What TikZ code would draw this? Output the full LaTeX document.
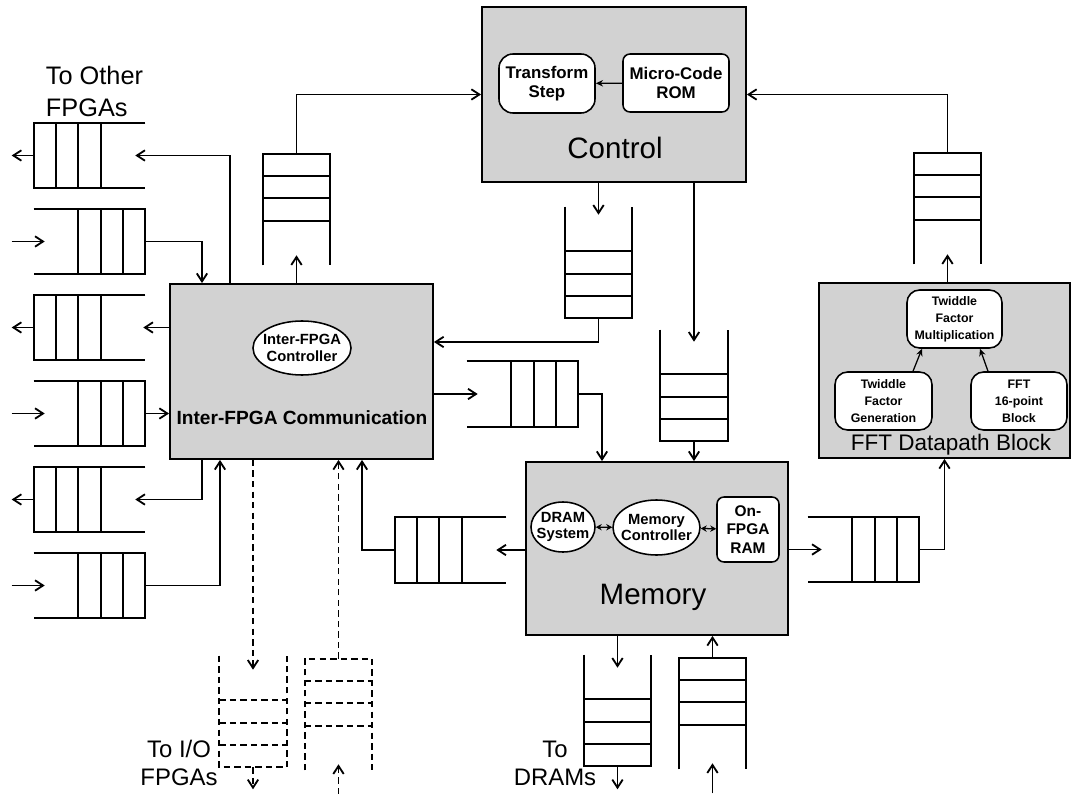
\documentclass[tikz,border=0pt]{standalone}
\usepackage{fontspec}
\setmainfont{Liberation Sans}
\usepackage{tikz}
\usetikzlibrary{shapes.geometric, arrows.meta, positioning, calc}
\definecolor{griBloc}{RGB}{210, 210, 210}

% fifos: closed end = exit side
\newcommand{\fifoL}[2][]{%
  \draw[ln,#1] (#2.north east) -- (#2.north west) -- (#2.south west) -- (#2.south east);
  \foreach \f in {0.2,0.4,0.6}
    \draw[ln,#1] ($(#2.north west)!\f!(#2.north east)$) -- ($(#2.south west)!\f!(#2.south east)$);}
\newcommand{\fifoR}[2][]{%
  \draw[ln,#1] (#2.north west) -- (#2.north east) -- (#2.south east) -- (#2.south west);
  \foreach \f in {0.4,0.6,0.8}
    \draw[ln,#1] ($(#2.north west)!\f!(#2.north east)$) -- ($(#2.south west)!\f!(#2.south east)$);}
\newcommand{\fifoU}[2][]{%
  \draw[ln,#1] (#2.south west) -- (#2.north west) -- (#2.north east) -- (#2.south east);
  \foreach \f in {0.2,0.4,0.6}
    \draw[ln,#1] ($(#2.north west)!\f!(#2.south west)$) -- ($(#2.north east)!\f!(#2.south east)$);}
\newcommand{\fifoD}[2][]{%
  \draw[ln,#1] (#2.north west) -- (#2.south west) -- (#2.south east) -- (#2.north east);
  \foreach \f in {0.4,0.6,0.8}
    \draw[ln,#1] ($(#2.north west)!\f!(#2.south west)$) -- ($(#2.north east)!\f!(#2.south east)$);}

\begin{document}
\begin{tikzpicture}[x=0.025cm, y=-0.025cm,
  blk/.style={rectangle, draw, line width=1.3pt, fill=griBloc,
    minimum width=6.6cm, minimum height=4.375cm},
  inb/.style={rectangle, draw, fill=white, line width=1.1pt, align=center,
    inner sep=1pt, font=\bfseries\fontsize{12}{14}\selectfont},
  ell/.style={ellipse, draw, fill=white, line width=1.1pt, align=center,
    inner sep=0pt, font=\bfseries\fontsize{10.5}{11.5}\selectfont},
  qh/.style={rectangle, inner sep=0pt, minimum width=2.775cm, minimum height=1.625cm},
  qv/.style={rectangle, inner sep=0pt, minimum width=1.675cm, minimum height=2.775cm},
  ln/.style={line width=1.3pt},
  arr/.style={-{Straight Barb[length=2mm, width=2.6mm]}, line width=1.3pt},
  pet/.style={-{Stealth[length=1.8mm, width=1.6mm]}, line width=0.9pt},
  dbl/.style={{Stealth[length=1.5mm, width=1.6mm]}-{Stealth[length=1.5mm, width=1.6mm]},
    line width=0.9pt},
  dsh/.style={dash pattern=on 4.5pt off 3pt},
  ttl/.style={font=\fontsize{21}{24}\selectfont},
  lbl/.style={font=\fontsize{17}{20}\selectfont, align=center},
]
\useasboundingbox (0,0) rectangle (1073,794);

% blocks
\node[blk] (ctl) at (614, 94.5) {};
\node[blk, minimum width=6.575cm] (ifc) at (301.5, 371.5) {};
\node[blk, minimum width=6.55cm, minimum height=4.325cm] (mem) at (657, 548.5) {};
\node[blk, minimum width=6.275cm] (fft) at (944.5, 370.5) {};

\node[ttl] (ctlt) at (615, 148) {Control};
\node[ttl] (memt) at (653, 597) {Memory};
\node[font=\bfseries\fontsize{13.6}{16}\selectfont] (ifct) at (302, 418)
  {Inter-FPGA Communication};
\node[font=\fontsize{16}{18}\selectfont] (fftt) at (951, 445) {FFT Datapath Block};

\node[inb, rounded corners=10pt, minimum width=2.4cm, minimum height=1.475cm]
  (ts) at (547, 83.5) {Transform\\Step};
\node[inb, rounded corners=5pt, minimum width=2.65cm, minimum height=1.45cm]
  (rom) at (676, 83) {Micro-Code\\ROM};
\node[ell, minimum width=2.45cm, minimum height=1.35cm] (ifcc) at (302, 348)
  {\makebox[0pt]{Inter-FPGA}\\\makebox[0pt]{Controller}};
\node[ell, minimum width=1.6cm, minimum height=1.25cm] (dram) at (563, 527)
  {\makebox[0pt]{DRAM}\\\makebox[0pt]{System}};
\node[ell, minimum width=2.175cm, minimum height=1.375cm] (mctl) at (656.5, 527.5)
  {\makebox[0pt]{Memory}\\\makebox[0pt]{Controller}};
\node[inb, rounded corners=5pt, minimum width=1.55cm, minimum height=1.625cm,
  font=\bfseries\fontsize{11}{13}\selectfont] (ram) at (748, 529.5) {On-\\FPGA\\RAM};
\node[inb, rounded corners=9pt, minimum width=2.375cm, minimum height=1.45cm,
  font=\bfseries\fontsize{8.8}{12}\selectfont] (mul) at (954.5, 319)
  {Twiddle\\Factor\\Multiplication};
\node[inb, rounded corners=9pt, minimum width=2.425cm, minimum height=1.45cm,
  font=\bfseries\fontsize{8.8}{12}\selectfont] (gen) at (883.5, 401)
  {Twiddle\\Factor\\Generation};
\node[inb, rounded corners=9pt, minimum width=2.4cm, minimum height=1.45cm,
  font=\bfseries\fontsize{8.8}{12}\selectfont] (fpb) at (1019, 401)
  {FFT\\16-point\\Block};

% fifos
\node[qh] (q1) at (89.5, 155.5) {};
\node[qh] (q2) at (89.5, 241.5) {};
\node[qh] (q3) at (89.5, 327.5) {};
\node[qh] (q4) at (89.5, 413.5) {};
\node[qh] (q5) at (89.5, 499.5) {};
\node[qh] (q6) at (89.5, 585.5) {};
\node[qh] (qim) at (522.5, 394) {};
\node[qh] (qmi) at (450.5, 550) {};
\node[qh] (qmf) at (863.5, 549.5) {};
\node[qv] (qctl) at (296.5, 209.5) {};
\node[qv] (qfft) at (947.5, 208.5) {};
\node[qv] (qcmd) at (598.5, 262.5) {};
\node[qv] (qmem) at (694, 385.5) {};
\node[qv] (qdo) at (617.5, 710.5) {};
\node[qv] (qdi) at (712.5, 713.5) {};
\node[qv] (qio) at (253, 711.5) {};
\node[qv] (qii) at (338.5, 714.5) {};
\fifoL{q1} \fifoR{q2} \fifoL{q3} \fifoR{q4} \fifoL{q5} \fifoR{q6}
\fifoR{qim} \fifoL{qmi} \fifoR{qmf}
\fifoU{qctl} \fifoU{qfft} \fifoD{qcmd} \fifoD{qmem} \fifoD{qdo} \fifoU{qdi}
\fifoD[dsh]{qio} \fifoU[dsh]{qii}

\node[font=\fontsize{18}{22.5}\selectfont, align=left, anchor=west] (oth) at (41, 91.5)
  {To Other\\FPGAs};
\node[lbl] (iot) at (179, 763) {To I/O\\FPGAs};
\node[lbl] (drt) at (555, 763) {To\\DRAMs};

% control
\draw[arr] (qctl.north) |- (ctl.west);
\draw[arr] (qfft.north) |- (ctl.east);
\draw[pet] (rom) -- (ts);
\draw[arr] (ctl.south -| qcmd.north) -- ($(qcmd.north)+(0,8)$);
\draw[arr] (ctl.south -| qmem.north) -- ($(qmem.north)+(0,12)$);
\draw[arr] (qcmd.south) |- ($(ifc.east)+(0,-29.5)$);
\draw[arr] (qmem.south) -- (mem.north -| qmem.south);

% inter-fpga
\draw[arr] (ifc.north -| qctl.south) -- ($(qctl.south)+(0,-10)$);
\draw[arr] ($(ifc.north)+(-71.5,0)$) |- ($(q1.east)+(-10,0)$);
\draw[arr] (q2.east) -| ($(ifc.north)+(-99.5,0)$);
\draw[arr] (ifc.west |- q3.east) -- ($(q3.east)+(-2,0)$);
\draw[arr] (q4.east) -- (q4.east -| ifc.west);
\draw[arr] ($(ifc.south)+(-99.5,0)$) |- ($(q5.east)+(-10,0)$);
\draw[arr] (q6.east) -| ($(ifc.south)+(-81.5,0)$);
\draw[arr] (q1.west) -- ++(-22,0);
\draw[arr] (q3.west) -- ++(-22,0);
\draw[arr] (q5.west) -- ++(-22,0);
\draw[arr] ($(q2.west)+(-22,0)$) -- ($(q2.west)+(11,0)$);
\draw[arr] ($(q4.west)+(-22,0)$) -- ($(q4.west)+(11,0)$);
\draw[arr] ($(q6.west)+(-22,0)$) -- ($(q6.west)+(11,0)$);
\draw[arr] (ifc.east |- qim.west) -- ($(qim.west)+(11,0)$);
\draw[arr] (qim.east) -| ($(mem.north)+(-55,0)$);
\draw[arr, dsh] (ifc.south -| qio.north) -- ($(qio.north)+(0,14)$);
\draw[arr, dsh] (qio.south) -- ++(0,22);
\draw[arr, dsh] (qii.north) -- (ifc.south -| qii.north);
\draw[arr, dsh] ($(qii.south)+(0,24)$) -- ($(qii.south)+(0,-6)$);

% memory
\draw[dbl] (dram) -- (mctl);
\draw[dbl] (mctl) -- (ram);
\draw[arr] (mem.west |- qmi.east) -- ($(qmi.east)+(-10,0)$);
\draw[arr] (qmi.west) -| ($(ifc.south)+(60.5,0)$);
\draw[arr] (mem.east |- qmf.west) -- ($(qmf.west)+(14,0)$);
\draw[arr] (qmf.east) -| (fft.south);
\draw[arr] (mem.south -| qdo.north) -- ($(qdo.north)+(0,13)$);
\draw[arr] (qdo.south) -- ++(0,23);
\draw[arr] (qdi.north) -- (mem.south -| qdi.north);
\draw[arr] ($(qdi.south)+(0,24)$) -- ($(qdi.south)+(0,-6)$);

% fft
\draw[pet] ($(gen.north)+(29.5,0)$) -- ($(mul.south)+(-32.5,0)$);
\draw[pet] ($(fpb.north)+(-31,0)$) -- ($(mul.south)+(25.5,0)$);
\draw[arr] (fft.north -| qfft.south) -- ($(qfft.south)+(0,-10)$);
\end{tikzpicture}
\end{document}
